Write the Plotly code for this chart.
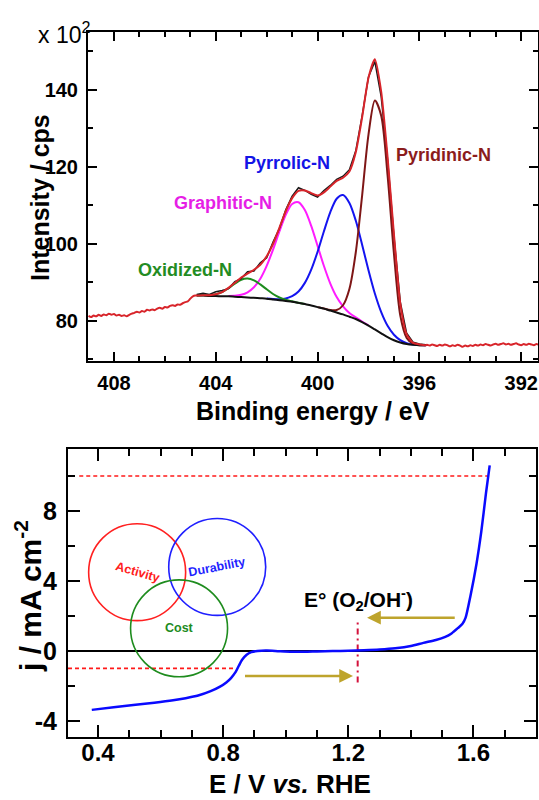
import plotly.graph_objects as go

# ---------------- XPS N 1s (top panel) ----------------
fit_be = [404.75, 404.5, 404.25, 404.0, 403.75, 403.5, 403.25, 403.0, 402.75, 402.5,
          402.25, 402.0, 401.75, 401.5, 401.25, 401.0, 400.75, 400.5, 400.25, 400.0,
          399.75, 399.5, 399.25, 399.0, 398.75, 398.5, 398.25, 398.0, 397.75, 397.5,
          397.25, 397.0, 396.75, 396.5, 396.25, 396.0, 395.75]

background = [86.6, 86.6, 86.5, 86.5, 86.4, 86.4, 86.3, 86.2, 86.1, 86.0,
              85.9, 85.8, 85.6, 85.4, 85.2, 85.0, 84.7, 84.4, 84.0, 83.6,
              83.2, 82.7, 82.2, 81.7, 81.1, 80.5, 79.7, 78.8, 77.8, 76.8,
              75.8, 75.0, 74.4, 74.0, 73.8, 73.7, 73.7]

oxidized_n = [86.6, 86.65, 86.65, 86.95, 87.5, 88.5, 89.7, 90.7, 91.0, 90.53,
              89.49, 88.23, 87.0, 86.1, 85.49, 85.11, 84.73, 84.4] + [None] * 19

graphitic_n = [None] * 5 + [86.49, 86.54, 86.8, 87.44, 88.74, 90.97, 94.31, 98.54, 103.27,
                            107.57, 110.39, 110.85, 108.82, 104.69, 99.49, 94.27, 89.7,
                            86.21, 83.79, 82.08, 80.92, 79.86, 78.86] + [None] * 9

pyrrolic_n = [None] * 11 + [85.83, 85.69, 85.65, 85.83, 86.43, 87.64, 89.89, 93.32, 97.97,
                            103.31, 108.28, 111.74, 112.7, 110.64, 106.08, 99.81, 93.17,
                            87.12, 82.29, 78.74, 76.43, 75.03, 74.25, 73.89, 73.73, 73.7]

pyridinic_n = [None] * 19 + [83.6, 83.22, 82.83, 82.83, 84.08, 88.3, 97.78, 112.58, 128.43,
                             137.26, 133.31, 117.8, 97.5, 81.4, 75.6, 74.1, 73.7, 73.7]

envelope = [86.6, 86.65, 86.7, 86.95, 87.5, 88.6, 89.9, 91.3, 92.3, 93.3,
            94.6, 96.8, 100.0, 104.2, 108.5, 111.9, 113.8, 113.9, 113.2, 112.6,
            113.4, 114.9, 116.4, 117.2, 118.8, 123.8, 132.9, 143.2, 148.0, 139.5,
            122.5, 102.5, 84.5, 76.5, 74.3, 73.9, 73.7]

raw_fit = [86.9, 87.2, 86.9, 87.6, 87.9, 88.4, 90.2, 91.0, 92.8, 93.0,
           95.1, 96.4, 100.5, 104.0, 108.9, 112.4, 114.6, 113.9, 112.9, 112.2,
           113.9, 115.2, 116.8, 117.6, 119.3, 124.2, 133.3, 143.4, 147.4, 138.2,
           121.9, 102.0, 84.9, 76.8, 74.5, 74.0, 73.8]

left_be = [409.0, 408.9, 408.8, 408.7, 408.6, 408.5, 408.4, 408.3, 408.2, 408.1,
           408.0, 407.9, 407.8, 407.7, 407.6, 407.5, 407.4, 407.3, 407.2, 407.1,
           407.0, 406.9, 406.8, 406.7, 406.6, 406.5, 406.4, 406.3, 406.2, 406.1,
           406.0, 405.9, 405.8, 405.7, 405.6, 405.5, 405.4, 405.3, 405.2, 405.1,
           405.0, 404.9, 404.8]
left_raw = [81.3, 81.0, 81.4, 81.2, 81.6, 81.3, 81.7, 81.5, 81.9, 81.6,
            81.8, 81.4, 81.6, 81.3, 81.5, 81.2, 81.6, 81.9, 82.1, 82.4,
            82.2, 82.6, 82.4, 82.9, 82.7, 83.0, 82.8, 83.2, 83.4, 83.2,
            83.6, 83.5, 83.9, 84.1, 83.9, 84.3, 84.2, 84.6, 84.9, 85.1,
            85.8, 86.4, 86.6]

right_be = [395.7, 395.6, 395.5, 395.4, 395.3, 395.2, 395.1, 395.0, 394.9, 394.8,
            394.7, 394.6, 394.5, 394.4, 394.3, 394.2, 394.1, 394.0, 393.9, 393.8,
            393.7, 393.6, 393.5, 393.4, 393.3, 393.2, 393.1, 393.0, 392.9, 392.8,
            392.7, 392.6, 392.5, 392.4, 392.3, 392.2, 392.1, 392.0, 391.9, 391.8,
            391.7, 391.6, 391.5, 391.4, 391.3]
right_raw = [73.8, 73.6, 73.9, 73.7, 73.5, 73.8, 73.6, 73.9, 73.7, 73.4,
             73.7, 73.5, 73.8, 73.6, 73.3, 73.6, 73.4, 73.7, 73.5, 73.8,
             73.6, 73.9, 73.7, 74.0, 73.8, 73.6, 73.9, 74.1, 73.8, 74.0,
             74.2, 73.9, 74.1, 73.8, 74.0, 74.2, 73.9, 73.7, 74.0, 73.8,
             74.1, 73.9, 73.7, 74.0, 73.8]

xps_labels = ["Pyridinic-N", "Pyrrolic-N", "Graphitic-N", "Oxidized-N"]

# ---------------- ORR / OER polarisation (bottom panel) ----------------
lsv_E = [0.38, 0.45, 0.52, 0.58, 0.64, 0.68, 0.72, 0.76, 0.79, 0.81,
         0.825, 0.84, 0.85, 0.86, 0.875, 0.89, 0.91, 0.94, 0.98, 1.02,
         1.06, 1.10, 1.15, 1.20, 1.25, 1.30, 1.35, 1.40, 1.44, 1.48,
         1.51, 1.53, 1.55, 1.565, 1.575, 1.59, 1.61, 1.625, 1.64, 1.652]
lsv_j = [-3.37, -3.22, -3.08, -2.96, -2.82, -2.70, -2.55, -2.30, -2.04, -1.80,
         -1.55, -1.20, -0.85, -0.52, -0.22, -0.07, 0.0, 0.02, -0.02, -0.05,
         -0.05, -0.03, -0.01, 0.01, 0.04, 0.08, 0.15, 0.28, 0.46, 0.62,
         0.80, 1.00, 1.30, 1.55, 1.9, 3.1, 5.0, 6.8, 9.0, 10.6]

limit_j = [10, -1]
limit_E_start = [0.34, 0.304]
limit_E_end = [1.645, 0.835]

E0 = 1.23
E0_span = [-1.8, 1.8]

arrow_tail_E = [1.545, 0.865]
arrow_head_E = [1.26, 1.215]
arrow_j = [1.9, -1.43]

circle_labels = ["Activity", "Durability", "Cost"]
circle_E = [0.525, 0.781, 0.659]
circle_j = [4.5, 4.8, 1.29]

# ---------------- styling ----------------
FONT = "Liberation Sans, Arial, sans-serif"
W, H = 539, 800


def px(x):
    return x / W


def py(y):
    return 1 - y / H


fig = go.Figure()

spl = dict(shape="spline", smoothing=0.8)

fig.add_trace(go.Scatter(x=fit_be, y=graphitic_n, mode="lines",
                         line=dict(color="#FF1CFF", width=2, **spl), xaxis="x", yaxis="y"))
fig.add_trace(go.Scatter(x=fit_be, y=pyrrolic_n, mode="lines",
                         line=dict(color="#1414F0", width=2, **spl), xaxis="x", yaxis="y"))
fig.add_trace(go.Scatter(x=fit_be, y=oxidized_n, mode="lines",
                         line=dict(color="#1E8C1E", width=2, **spl), xaxis="x", yaxis="y"))
fig.add_trace(go.Scatter(x=fit_be, y=pyridinic_n, mode="lines",
                         line=dict(color="#7E1616", width=2, **spl), xaxis="x", yaxis="y"))
fig.add_trace(go.Scatter(x=fit_be, y=background, mode="lines",
                         line=dict(color="#111111", width=2, **spl), xaxis="x", yaxis="y"))
fig.add_trace(go.Scatter(x=fit_be, y=raw_fit, mode="lines",
                         line=dict(color="#1a1a1a", width=1.5), xaxis="x", yaxis="y"))
fig.add_trace(go.Scatter(x=left_be + fit_be + right_be, y=left_raw + envelope + right_raw,
                         mode="lines", line=dict(color="#D8242A", width=2, shape="spline", smoothing=0.6),
                         xaxis="x", yaxis="y"))

# bottom panel traces
for jv, e0, e1 in zip(limit_j, limit_E_start, limit_E_end):
    fig.add_trace(go.Scatter(x=[e0, e1], y=[jv, jv], mode="lines",
                             line=dict(color="#FF1A1A", width=1.6, dash="4px,3px"),
                             xaxis="x2", yaxis="y2"))
fig.add_trace(go.Scatter(x=[E0, E0], y=E0_span, mode="lines",
                         line=dict(color="#D3123C", width=2, dash="6px,4px,2px,4px"),
                         xaxis="x2", yaxis="y2"))
fig.add_trace(go.Scatter(x=lsv_E, y=lsv_j, mode="lines",
                         line=dict(color="#0A0AFF", width=2.5, shape="spline", smoothing=0.7),
                         xaxis="x2", yaxis="y2"))

RX, RY = 0.155, 2.77
circle_colors = ["#FF2020", "#1F1FFF", "#1E8C1E"]
shapes = [dict(type="line", xref="x2 domain", yref="y2", x0=0, x1=1, y0=0, y1=0,
               line=dict(color="black", width=2), layer="below")]
for e, j, c in zip(circle_E, circle_j, circle_colors):
    shapes.append(dict(type="circle", xref="x2", yref="y2", x0=e - RX, x1=e + RX,
                       y0=j - RY, y1=j + RY, line=dict(color=c, width=1.6)))

annotations = []
# arrows
for t, h, j in zip(arrow_tail_E, arrow_head_E, arrow_j):
    annotations.append(dict(x=h, y=j, ax=t, ay=j, xref="x2", yref="y2", axref="x2", ayref="y2",
                            showarrow=True, arrowhead=2, arrowsize=1.1, arrowwidth=2.5,
                            arrowcolor="#BEA42C", text=""))
# circle labels
label_angles = [16, -11, 0]
for lab, e, j, c, a in zip(circle_labels, circle_E, circle_j, circle_colors, label_angles):
    annotations.append(dict(x=e, y=j, xref="x2", yref="y2", text="<b>%s</b>" % lab, showarrow=False,
                            xanchor="center", yanchor="middle",
                            textangle=a, font=dict(family=FONT, size=12.5, color=c)))

# XPS component labels (paper pixels)
xps_pos = [(443, 155), (287, 163), (223, 203), (185, 270)]
xps_cols = ["#8B1C1C", "#1414E6", "#E61EE6", "#238C23"]
for lab, (x, y), c in zip(xps_labels, xps_pos, xps_cols):
    annotations.append(dict(x=px(x), y=py(y), xref="paper", yref="paper", text="<b>%s</b>" % lab,
                            xanchor="center", yanchor="middle",
                            showarrow=False, font=dict(family=FONT, size=18, color=c)))

annotations += [
    dict(x=px(36), y=py(33), xref="paper", yref="paper", text="x 10<sup>2</sup>", showarrow=False,
         xanchor="left", yanchor="middle", font=dict(family=FONT, size=23, color="black")),
    dict(x=px(313), y=py(411), xref="paper", yref="paper", text="<b>Binding energy / eV</b>",
         xanchor="center", yanchor="middle",
         showarrow=False, font=dict(family=FONT, size=25, color="black")),
    dict(x=px(40), y=py(198), xref="paper", yref="paper", text="<b>Intensity / cps</b>",
         xanchor="center", yanchor="middle",
         showarrow=False, textangle=-90, font=dict(family=FONT, size=25, color="black")),
    dict(x=px(28), y=py(596), xref="paper", yref="paper", text="<b>j / mA cm<sup>-2</sup></b>",
         xanchor="center", yanchor="middle",
         showarrow=False, textangle=-90, font=dict(family=FONT, size=30, color="black")),
    dict(x=px(290), y=py(784), xref="paper", yref="paper", text="<b>E / V <i>vs.</i> RHE</b>",
         xanchor="center", yanchor="middle",
         showarrow=False, font=dict(family=FONT, size=26, color="black")),
    dict(x=px(358), y=py(599), xref="paper", yref="paper", text="<b>E° (O<sub>2</sub>/OH<sup>-</sup>)</b>",
         xanchor="center", yanchor="middle",
         showarrow=False, font=dict(family=FONT, size=21, color="black")),
]

axis_common = dict(showline=True, linecolor="black", linewidth=2, mirror="ticks", ticks="inside",
                   tickcolor="black", tickwidth=2, showgrid=False, zeroline=False)

fig.update_layout(
    width=W, height=H, autosize=False, showlegend=False,
    margin=dict(l=0, r=0, t=0, b=0, pad=0),
    paper_bgcolor="white", plot_bgcolor="white",
    xaxis=dict(domain=[px(88), px(538)], range=[409.02, 391.34], anchor="y",
               tickmode="linear", tick0=392, dtick=4, ticklen=9,
               minor=dict(dtick=1, tick0=392, ticklen=5, ticks="inside", tickwidth=1.5,
                          tickcolor="black", showgrid=False),
               tickfont=dict(family=FONT, size=20, color="black", weight="bold"),
               ticklabelstandoff=3, **axis_common),
    yaxis=dict(domain=[py(361), py(32)], range=[69.6, 155.06], anchor="x",
               tickmode="linear", tick0=0, dtick=20, ticklen=9,
               minor=dict(dtick=10, tick0=0, ticklen=5, ticks="inside", tickwidth=1.5,
                          tickcolor="black", showgrid=False),
               tickfont=dict(family=FONT, size=20, color="black", weight="bold"),
               ticklabelstandoff=4, **axis_common),
    xaxis2=dict(domain=[px(68), px(536)], range=[0.304, 1.80], anchor="y2",
                tickmode="linear", tick0=0.4, dtick=0.4, tickformat=".1f", ticklen=12,
                minor=dict(dtick=0.1, tick0=0.4, ticklen=7, ticks="inside", tickwidth=2,
                           tickcolor="black", showgrid=False),
                tickfont=dict(family=FONT, size=24, color="black", weight="bold"),
                ticklabelstandoff=-7, **axis_common),
    yaxis2=dict(domain=[py(737), py(449)], range=[-4.92, 11.54], anchor="x2",
                tickmode="array", tickvals=[-4, 0, 4, 8], ticktext=["-4", "0", "4", "8"], ticklen=12,
                minor=dict(tickmode="linear", dtick=2, tick0=0, ticklen=7, ticks="inside", tickwidth=2,
                           tickcolor="black", showgrid=False),
                tickfont=dict(family=FONT, size=25, color="black", weight="bold"),
                ticklabelstandoff=4, **axis_common),
    shapes=shapes,
    annotations=annotations,
)

fig.write_html("out.html", config={"displayModeBar": False},
               post_script="document.body.style.margin='0';document.body.style.padding='0';")
